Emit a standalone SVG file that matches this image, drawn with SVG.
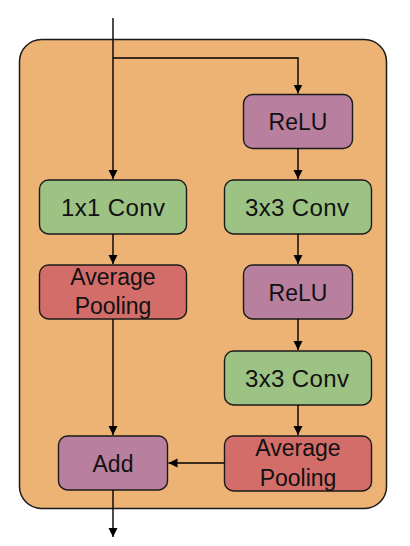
<svg xmlns="http://www.w3.org/2000/svg" width="410" height="546" viewBox="0 0 410 546">
<defs>
<marker id="ah" markerWidth="10" markerHeight="10" refX="9" refY="4.5" orient="auto" markerUnits="userSpaceOnUse">
<path d="M0,0 L9,4.5 L0,9 Z" fill="#000"/>
</marker>
<style>
.box{stroke:#1a1a1a;stroke-width:1.4}
.green{fill:#9DC384}
.red{fill:#D36D6A}
.purple{fill:#B87F9E}
.t{font-family:"Liberation Sans",Arial,sans-serif;font-size:23px;fill:#111;text-anchor:middle}
.cv{font-size:24px}
.c{fill:none;stroke:#000;stroke-width:1.4}
</style>
</defs>
<rect id="container" x="19.5" y="39.5" width="367" height="469" rx="22" fill="#ECB374" stroke="#1a1a1a" stroke-width="1.5"/>
<g id="relu1"><rect class="box purple" x="243.5" y="94.5" width="109" height="54" rx="9"/><text class="t" x="298" y="129.5">ReLU</text></g>
<g id="conv1x1"><rect class="box green" x="39.5" y="180" width="147" height="54" rx="9"/><text class="t cv" x="113" y="216" textLength="104" lengthAdjust="spacing">1x1 Conv</text></g>
<g id="conv3x3a"><rect class="box green" x="224.5" y="180" width="147" height="54" rx="9"/><text class="t cv" x="297" y="216" textLength="104" lengthAdjust="spacing">3x3 Conv</text></g>
<g id="avgpoolL"><rect class="box red" x="39.5" y="265" width="147" height="54" rx="9"/><text class="t" x="113" y="285">Average</text><text class="t" x="113" y="314">Pooling</text></g>
<g id="relu2"><rect class="box purple" x="243.5" y="265" width="109" height="54" rx="9"/><text class="t" x="298" y="300.5">ReLU</text></g>
<g id="conv3x3b"><rect class="box green" x="224.5" y="351" width="147" height="54" rx="9"/><text class="t cv" x="297" y="387" textLength="104" lengthAdjust="spacing">3x3 Conv</text></g>
<g id="add"><rect class="box purple" x="58.5" y="436" width="109" height="54" rx="9"/><text class="t" x="113" y="471.5">Add</text></g>
<g id="avgpoolR"><rect class="box red" x="224.5" y="436" width="147" height="55" rx="9"/><text class="t" x="298" y="456">Average</text><text class="t" x="298" y="485.5">Pooling</text></g>
<g id="connectors">
<path class="c" d="M113,18 V179" marker-end="url(#ah)"/>
<path class="c" d="M113,58 H298 V93.5" marker-end="url(#ah)"/>
<path class="c" d="M298,148.5 V179" marker-end="url(#ah)"/>
<path class="c" d="M113,234 V264" marker-end="url(#ah)"/>
<path class="c" d="M298,234 V264" marker-end="url(#ah)"/>
<path class="c" d="M113,319 V435" marker-end="url(#ah)"/>
<path class="c" d="M298,319 V350" marker-end="url(#ah)"/>
<path class="c" d="M298,405 V435" marker-end="url(#ah)"/>
<path class="c" d="M224.5,463 H168.5" marker-end="url(#ah)"/>
<path class="c" d="M113,490 V537" marker-end="url(#ah)"/>
</g>
</svg>
